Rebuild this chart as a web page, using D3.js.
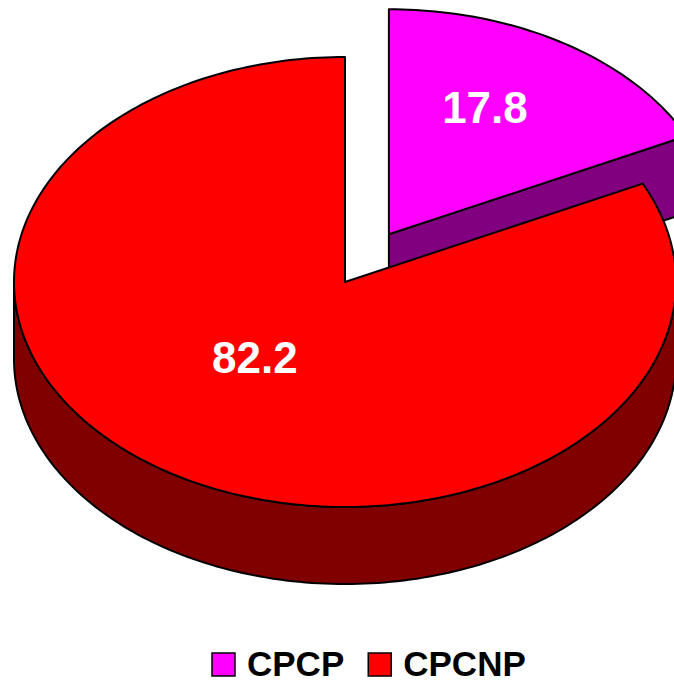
<!DOCTYPE html>
<html>
<head>
<meta charset="utf-8">
<script src="https://cdn.jsdelivr.net/npm/d3@7"></script>
<style>
  body { margin: 0; background: #fff; }
  svg { display: block; }
  text { font-family: Arial, "Liberation Sans", sans-serif; font-weight: bold; }
</style>
</head>
<body>
<svg id="chart"></svg>
<script>
var categories = ["CPCP", "CPCNP"];
var values = [17.8, 82.2];
var topColors = ["#FF00FF", "#FF0000"];
var sideColors = ["#800080", "#800000"];
var explode = [0.25, 0];

var width = 674, height = 683;
var cx = 345, cy = 282;   // centre of the top face
var rx = 331, ry = 225;   // ellipse radii
var depth = 77;           // thickness of the pie
var labelR = 0.53;

var svg = d3.select("#chart").attr("width", width).attr("height", height);

var pie = d3.pie().sort(null).value(function (d) { return d; });
var arcs = pie(values);

// projected point on the tilted disc
function pt(a, r, ox, oy, dz) {
  return [ox + rx * r * Math.sin(a), oy - ry * r * Math.cos(a) + dz];
}
function arcPts(a0, a1, ox, oy, dz) {
  var n = Math.max(2, Math.ceil((a1 - a0) / 0.02));
  return d3.range(n + 1).map(function (i) {
    return pt(a0 + (a1 - a0) * i / n, 1, ox, oy, dz);
  });
}
var line = d3.line();

arcs.forEach(function (d, i) {
  var mid = (d.startAngle + d.endAngle) / 2;
  var off = pt(mid, explode[i], 0, 0, 0);
  d.ox = cx + off[0];
  d.oy = cy + off[1];
});

function face(g, pts, fill) {
  g.append("path")
    .attr("d", line(pts) + "Z")
    .attr("fill", fill).attr("stroke", "#000").attr("stroke-width", 2)
    .attr("stroke-linejoin", "round");
}

// side faces first
arcs.forEach(function (d, i) {
  var g = svg.append("g");
  var a0 = d.startAngle, a1 = d.endAngle;
  // radial face at end angle
  if (Math.sin(a1) > 1e-6) {
    var p1 = pt(a1, 1, d.ox, d.oy, 0);
    face(g, [[d.ox, d.oy], p1, [p1[0], p1[1] + depth], [d.ox, d.oy + depth]], sideColors[i]);
  }
  if (Math.sin(a0) < -1e-6) {
    var p0 = pt(a0, 1, d.ox, d.oy, 0);
    face(g, [[d.ox, d.oy], p0, [p0[0], p0[1] + depth], [d.ox, d.oy + depth]], sideColors[i]);
  }
  // outer wall, visible between 90 and 270 degrees
  var w0 = Math.max(a0, Math.PI / 2), w1 = Math.min(a1, 3 * Math.PI / 2);
  if (w1 > w0) {
    var topEdge = arcPts(w0, w1, d.ox, d.oy, 0);
    var botEdge = arcPts(w0, w1, d.ox, d.oy, depth).reverse();
    face(g, topEdge.concat(botEdge), sideColors[i]);
  }
});

// top faces
arcs.forEach(function (d, i) {
  var p = [[d.ox, d.oy]].concat(arcPts(d.startAngle, d.endAngle, d.ox, d.oy, 0));
  face(svg, p, topColors[i]);
});

// value labels
arcs.forEach(function (d, i) {
  var mid = (d.startAngle + d.endAngle) / 2;
  var lp = pt(mid, labelR, d.ox, d.oy, 0);
  svg.append("text")
    .attr("x", lp[0] + 3).attr("y", lp[1] - 10)
    .attr("text-anchor", "middle")
    .attr("fill", "#fff")
    .style("font-size", "44px")
    .text(values[i].toFixed(1));
});

// legend
var legend = svg.append("g");
var lx = 212;
categories.forEach(function (c, i) {
  legend.append("rect")
    .attr("x", lx).attr("y", 653).attr("width", 23).attr("height", 23)
    .attr("fill", topColors[i]).attr("stroke", "#000").attr("stroke-width", 1.5);
  var t = legend.append("text")
    .attr("x", lx + 35).attr("y", 676)
    .attr("fill", "#000")
    .style("font-size", "35px")
    .text(c);
  lx += 35 + t.node().getComputedTextLength() + 24;
});
</script>
</body>
</html>
